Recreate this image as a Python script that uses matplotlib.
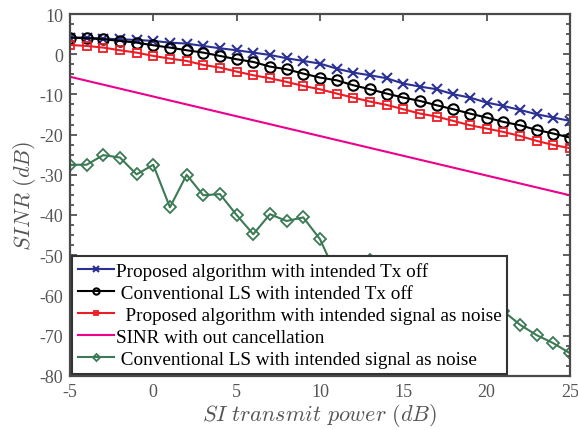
import matplotlib
matplotlib.use('Agg')
import matplotlib.pyplot as plt
from matplotlib.ticker import MultipleLocator

plt.rcParams['font.family'] = ['Liberation Serif', 'DejaVu Serif']
plt.rcParams['mathtext.fontset'] = 'cm'
plt.rcParams['axes.unicode_minus'] = False

x = list(range(-5, 26))

# Proposed algorithm with intended Tx off
prop_off = [4.15, 4.15, 3.90, 3.73, 3.57, 3.32, 2.90, 2.65, 2.07, 1.49, 1.00,
            0.41, -0.17, -0.99, -1.66, -2.32, -3.57, -4.56, -5.22, -5.97, -7.29,
            -8.04, -8.71, -9.95, -10.78, -12.02, -12.85, -13.85, -14.93, -15.75, -16.58]
# Conventional LS with intended Tx off
ls_off = [4.15, 3.98, 3.73, 3.32, 2.90, 2.24, 1.66, 1.00, 0.41, -0.41, -1.24,
          -1.91, -3.07, -3.73, -4.81, -5.80, -6.47, -7.71, -8.71, -9.78, -10.78,
          -11.61, -12.69, -13.68, -14.76, -15.75, -16.83, -17.66, -18.82, -19.73, -20.73]
# Proposed algorithm with intended signal as noise
prop_noise = [2.32, 2.07, 1.66, 1.00, 0.41, -0.41, -1.08, -1.66, -2.65, -3.32, -4.31,
              -5.22, -5.97, -6.88, -7.88, -8.71, -9.78, -10.78, -11.77, -12.60, -13.68,
              -14.76, -15.51, -16.58, -17.66, -18.49, -19.32, -20.32, -21.56, -22.56, -23.38]
# SINR without cancellation (straight line)
x_nocanc = [-5, 25]
no_canc = [-5.6, -35.1]
# Conventional LS with intended signal as noise (11-20 hidden behind legend)
ls_noise = [-27.5, -27.5, -25.1, -25.7, -29.9, -27.5, -38.1, -30.0, -35.1, -34.8, -40.0,
            -44.8, -39.8, -41.5, -40.6, -46.0, -55.0, -53.5, -51.3, -54.0, -56.0,
            -57.5, -59.0, -60.5, -61.5, -62.5, -63.9, -67.3, -69.9, -71.9, -74.4]

labels = ['Proposed algorithm with intended Tx off',
          ' Conventional LS with intended Tx off',
          '  Proposed algorithm with intended signal as noise',
          'SINR with out cancellation',
          ' Conventional LS with intended signal as noise']

fig = plt.figure(figsize=(5.78, 4.31), dpi=100)
ax = fig.add_axes([0.121, 0.126, 0.865, 0.839])

lw = 1.5
ax.plot(x, prop_off, color='#2B3192', lw=lw, marker='x', ms=7, mew=1.5, label=labels[0])
ax.plot(x, ls_off, color='black', lw=lw, marker='o', ms=7.5, mew=1.5, mfc='none', label=labels[1])
ax.plot(x, prop_noise, color='#EE1C25', lw=lw, marker='s', ms=6, mew=1.3, mfc='none', label=labels[2])
ax.plot(x_nocanc, no_canc, color='#EC008C', lw=lw, label=labels[3])
ax.plot(x, ls_noise, color='#3C7A55', lw=lw, marker='D', ms=6, mew=1.3, mfc='none', label=labels[4])

ax.set_xlim(-5, 25)
ax.set_ylim(-80, 10)
ax.xaxis.set_major_locator(MultipleLocator(5))
ax.yaxis.set_major_locator(MultipleLocator(10))
ax.yaxis.set_minor_locator(MultipleLocator(2.5))
ax.tick_params(which='both', direction='in', top=True, right=True, colors='#444444',
               labelcolor='#555555', labelsize=13, width=1.2, pad=5)
ax.tick_params(which='major', length=5)
ax.tick_params(which='minor', length=3)
for s in ax.spines.values():
    s.set_color('#4a4a4a')
    s.set_linewidth(1.6)

ax.set_xlabel(r'$SI\ transmit\ power\ (dB)$', fontsize=16, color='#555555', labelpad=1)
ax.set_ylabel(r'$SINR\ (dB)$', fontsize=16, color='#555555', labelpad=1)

leg = ax.legend(loc='lower left', borderaxespad=0.1, fontsize=13.8, fancybox=False,
                framealpha=1, edgecolor='#333333', handlelength=1.9, handletextpad=0.1,
                labelspacing=0.24, borderpad=0.3, markerscale=0.6)
leg.get_frame().set_linewidth(1.5)

fig.savefig('out.png', dpi=100)
